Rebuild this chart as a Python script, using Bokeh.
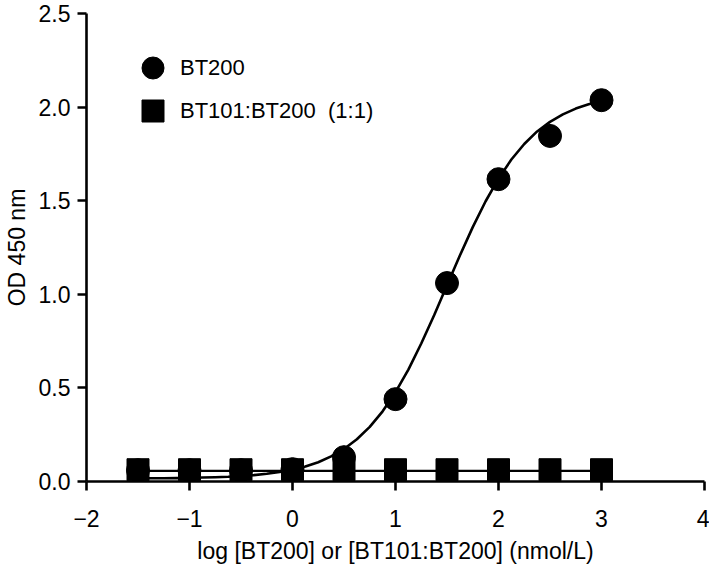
from bokeh.plotting import figure
from bokeh.models import Range1d, Legend, LegendItem, FixedTicker
from bokeh.embed import file_html
from bokeh.resources import INLINE

# ---- data ----
log_conc = [-1.5, -1.0, -0.5, 0.0, 0.5, 1.0, 1.5, 2.0, 2.5, 3.0]
bt200_od = [0.06, 0.06, 0.06, 0.066, 0.13, 0.44, 1.06, 1.615, 1.846, 2.037]
mix_od = [0.063, 0.063, 0.063, 0.063, 0.063, 0.063, 0.063, 0.063, 0.063, 0.063]

# fitted curve for BT200
bt200_fit_x = [-1.5, -1.375, -1.25, -1.125, -1.0, -0.875, -0.75, -0.625, -0.5, -0.375,
               -0.25, -0.125, 0.0, 0.125, 0.25, 0.375, 0.5, 0.625, 0.75, 0.875,
               1.0, 1.125, 1.25, 1.375, 1.5, 1.625, 1.75, 1.875, 2.0, 2.125,
               2.25, 2.375, 2.5, 2.625, 2.75, 2.875, 3.0]
bt200_fit_y = [0.016, 0.017, 0.017, 0.018, 0.019, 0.021, 0.023, 0.025, 0.029, 0.034,
               0.041, 0.051, 0.063, 0.080, 0.103, 0.134, 0.174, 0.226, 0.292, 0.375,
               0.477, 0.598, 0.737, 0.888, 1.048, 1.207, 1.359, 1.497, 1.618, 1.720,
               1.803, 1.870, 1.921, 1.961, 1.992, 2.015, 2.032]

# fitted (flat) line for BT101:BT200
mix_fit_x = [-1.5, 3.0]
mix_fit_y = [0.057, 0.057]

x_ticks = [-2, -1, 0, 1, 2, 3, 4]
x_tick_labels = ["\u22122", "\u22121", "0", "1", "2", "3", "4"]
y_ticks = [0.0, 0.5, 1.0, 1.5, 2.0, 2.5]
y_tick_labels = ["0.0", "0.5", "1.0", "1.5", "2.0", "2.5"]

series_names = ["BT200", "BT101:BT200  (1:1)"]
x_title = "log [BT200] or [BT101:BT200] (nmol/L)"
y_title = "OD 450 nm"

FONT = "Liberation Sans"

p = figure(width=709, height=566, output_backend="svg", toolbar_location=None,
           x_range=Range1d(-2, 4), y_range=Range1d(0, 2.5),
           min_border_left=86, min_border_right=5, min_border_top=13, min_border_bottom=83)
p.outline_line_color = None
p.xgrid.visible = False
p.ygrid.visible = False
p.background_fill_color = "white"
p.border_fill_color = "white"

for ax in (p.xaxis[0], p.yaxis[0]):
    ax.axis_line_width = 2.6
    ax.axis_line_color = "black"
    ax.major_tick_line_width = 2.6
    ax.major_tick_line_color = "black"
    ax.major_tick_in = 0
    ax.major_tick_out = 9
    ax.minor_tick_line_color = None
    ax.major_label_text_font = FONT
    ax.major_label_text_font_size = "23px"
    ax.major_label_text_color = "black"
    ax.axis_label_text_font = FONT
    ax.axis_label_text_font_size = "23px"
    ax.axis_label_text_font_style = "normal"
    ax.axis_label_text_color = "black"

p.xaxis[0].ticker = FixedTicker(ticks=x_ticks)
p.xaxis[0].major_label_overrides = {t: l for t, l in zip(x_ticks, x_tick_labels)}
p.xaxis[0].major_label_standoff = 19
p.xaxis[0].axis_label = x_title
p.xaxis[0].axis_label_standoff = 8

p.yaxis[0].ticker = FixedTicker(ticks=y_ticks)
p.yaxis[0].major_label_overrides = {t: l for t, l in zip(y_ticks, y_tick_labels)}
p.yaxis[0].major_label_standoff = 7
p.yaxis[0].axis_label = y_title
p.yaxis[0].axis_label_standoff = 6

# fitted lines
p.line(bt200_fit_x, bt200_fit_y, line_color="black", line_width=2.6)
p.line(mix_fit_x, mix_fit_y, line_color="black", line_width=2.2)

# data points
r_circ = p.scatter(log_conc, bt200_od, marker="circle", size=23,
                   fill_color="black", line_color="black")
r_sq = p.scatter(log_conc, mix_od, marker="square", size=22,
                 fill_color="black", line_color="black")

legend_style = dict(orientation="vertical", glyph_width=55, glyph_height=55,
                    padding=0, margin=0, label_standoff=0,
                    label_text_font=FONT, label_text_font_size="22px",
                    label_text_color="black",
                    border_line_color=None, background_fill_alpha=0)
legend1 = Legend(items=[LegendItem(label=series_names[0], renderers=[r_circ])],
                 location=(39, 386), **legend_style)
legend2 = Legend(items=[LegendItem(label=series_names[1], renderers=[r_sq])],
                 location=(39, 343), **legend_style)
p.add_layout(legend1, "center")
p.add_layout(legend2, "center")

open("out.html", "w").write(file_html(p, INLINE))
